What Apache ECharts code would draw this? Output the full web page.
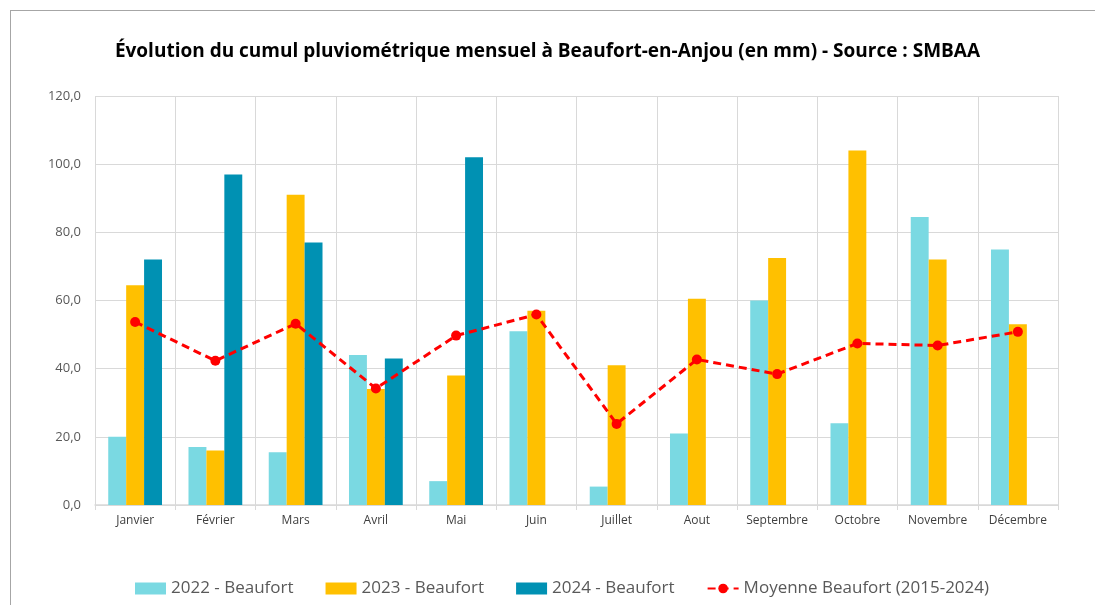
<!DOCTYPE html>
<html><head><meta charset="utf-8">
<script src="https://cdn.jsdelivr.net/npm/echarts@6/dist/echarts.min.js"></script>
<style>html,body{margin:0;padding:0;background:#fff}#c{width:1095px;height:605px}
#frame{position:absolute;left:10px;top:10px;width:1100px;height:700px;border:1px solid #a6a6a6;pointer-events:none}</style>
</head><body><div id="c"></div><div id="frame"></div>
<script>
const months = ['Janvier','Février','Mars','Avril','Mai','Juin','Juillet','Aout','Septembre','Octobre','Novembre','Décembre'];
const v2022 = [20, 17, 15.5, 44, 7, 51, 5.4, 21, 60, 24, 84.5, 75];
const v2023 = [64.5, 16, 91, 34, 38, 57, 41, 60.5, 72.5, 104, 72, 53];
const v2024 = [72, 97, 77, 43, 102, null, null, null, null, null, null, null];
const avg = [53.7, 42.3, 53.2, 34.2, 49.7, 55.9, 23.8, 42.7, 38.4, 47.4, 46.8, 50.8];
const seriesNames = ['2022 - Beaufort','2023 - Beaufort','2024 - Beaufort','Moyenne Beaufort (2015-2024)'];

const chart = echarts.init(document.getElementById('c'));
const font = '"Open Sans", sans-serif';
chart.setOption({
  animation:false,
  title:{text:'Évolution du cumul pluviométrique mensuel à Beaufort-en-Anjou (en mm) - Source : SMBAA',
    left:'center', top:37, textStyle:{fontFamily:font, fontSize:19, fontWeight:'bold', color:'#000'}},
  grid:{left:95, right:37, top:96, bottom:100},
  legend:{bottom:3, left:130, itemGap:32, itemWidth:31, itemHeight:12,
    textStyle:{fontFamily:font, fontSize:17, color:'#595959'},
    data:[{name:seriesNames[0], icon:'rect'},{name:seriesNames[1], icon:'rect'},{name:seriesNames[2], icon:'rect'},{name:seriesNames[3]}]},
  xAxis:{type:'category', data:months,
    axisLine:{lineStyle:{color:'#d9d9d9', width:1.5}},
    axisTick:{show:true, interval:0, lineStyle:{color:'#d9d9d9'}, length:5},
    axisLabel:{interval:0, fontFamily:font, fontSize:12, color:'#404040', margin:10},
    splitLine:{show:true, interval:0, lineStyle:{color:'#d9d9d9'}}},
  yAxis:{type:'value', min:0, max:120, interval:20,
    axisLine:{show:false}, axisTick:{show:false},
    axisLabel:{fontFamily:font, fontSize:13, color:'#595959', margin:14, formatter:v=>v.toFixed(1).replace('.',',')},
    splitLine:{lineStyle:{color:'#d9d9d9'}}},
  series:[
    {name:seriesNames[0], type:'bar', data:v2022, barGap:'0%', barCategoryGap:'33%', itemStyle:{color:'#7ad9e2'}},
    {name:seriesNames[1], type:'bar', data:v2023, itemStyle:{color:'#ffc000'}},
    {name:seriesNames[2], type:'bar', data:v2024, itemStyle:{color:'#0091b3'}},
    {name:seriesNames[3], type:'line', data:avg, symbol:'circle', symbolSize:10,
      lineStyle:{color:'#ff0000', width:3, type:[8,5]}, itemStyle:{color:'#ff0000'}, z:5}
  ]
});
</script></body></html>
